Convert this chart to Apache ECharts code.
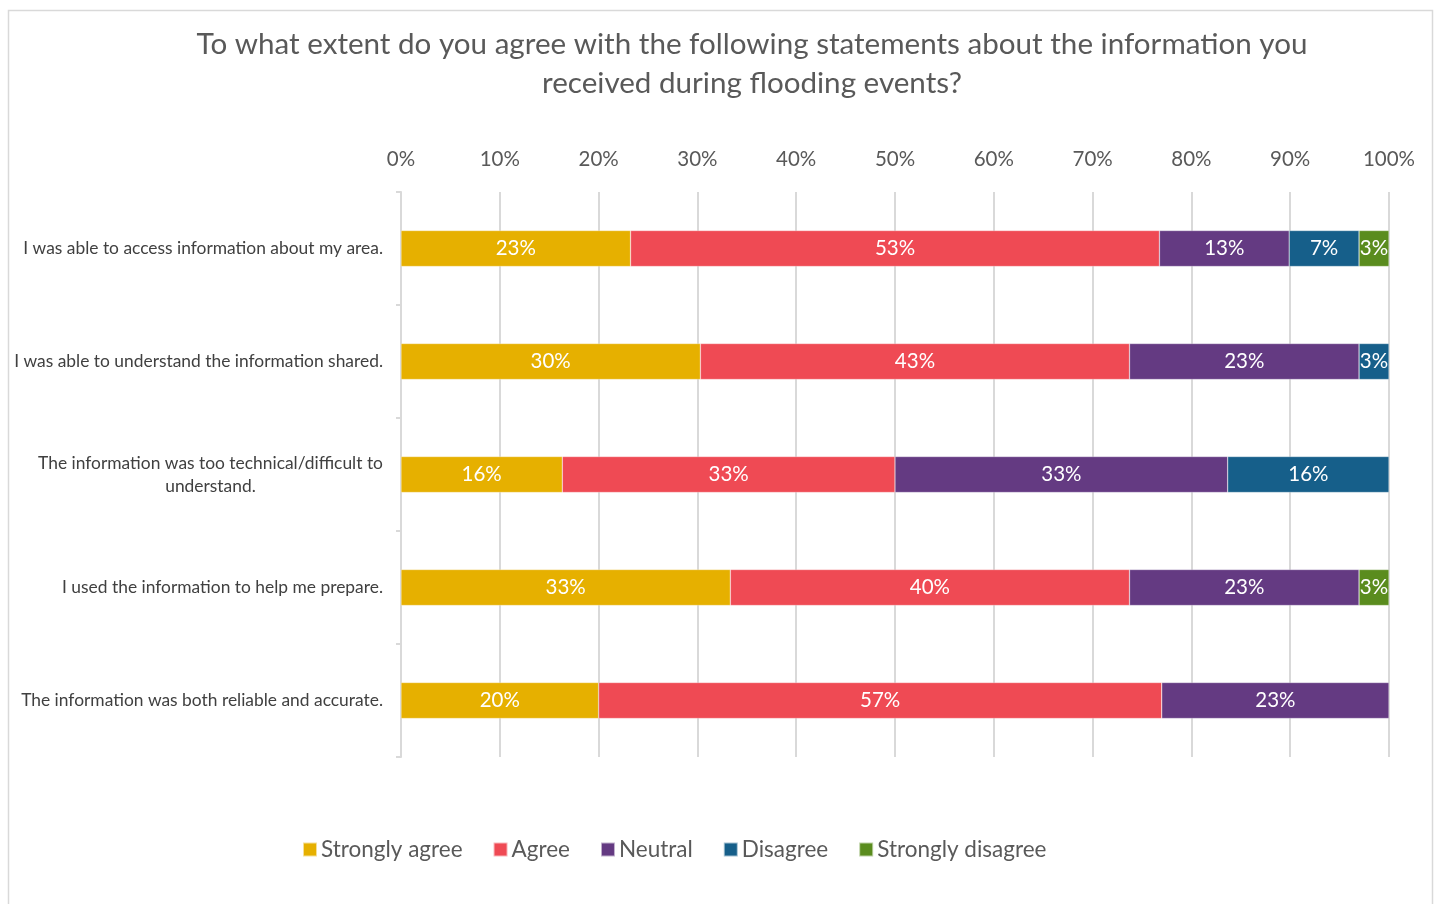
<!DOCTYPE html>
<html>
<head>
<meta charset="utf-8">
<script src="https://cdn.jsdelivr.net/npm/echarts@6/dist/echarts.min.js"></script>
<style>
html,body{margin:0;padding:0;background:#fff;}
#chart{width:1439px;height:904px;}
</style>
</head>
<body>
<div id="chart"></div>
<script>
var titleText = 'To what extent do you agree with the following statements about the information you\nreceived during flooding events?';
var categories = [
  'I was able to access information about my area.',
  'I was able to understand the information shared.',
  'The information was too technical/difficult to\nunderstand.',
  'I used the information to help me prepare.',
  'The information was both reliable and accurate.'
];
var seriesNames = ['Strongly agree', 'Agree', 'Neutral', 'Disagree', 'Strongly disagree'];
var stronglyAgree = [23, 30, 16, 33, 20];
var agree = [53, 43, 33, 40, 57];
var neutral = [13, 23, 33, 23, 23];
var disagree = [7, 3, 16, 0, 0];
var stronglyDisagree = [3, 0, 0, 3, 0];
var xTickLabels = ['0%','10%','20%','30%','40%','50%','60%','70%','80%','90%','100%'];
var colors = ['#E6B000', '#EF4A54', '#643A82', '#165F8A', '#5A8C1E'];

var FONT = 'Lato, "Open Sans", sans-serif';
var CAT_SIZE = 17.4;
var raw = [stronglyAgree, agree, neutral, disagree, stronglyDisagree];
var totals = categories.map(function (c, i) {
  return raw.reduce(function (s, arr) { return s + arr[i]; }, 0);
});

// measure first line of wrapped label so both lines centre like the original
var cv = document.createElement('canvas').getContext('2d');
cv.font = CAT_SIZE + 'px ' + FONT;

var chart = echarts.init(document.getElementById('chart'), null, {renderer: 'canvas'});

var series = raw.map(function (arr, k) {
  return {
    name: seriesNames[k],
    type: 'bar',
    stack: 'total',
    barWidth: 36,
    itemStyle: {color: colors[k], borderColor: 'rgba(255,255,255,0.6)', borderWidth: 0.5},
    label: {
      show: true,
      position: 'inside',
      color: '#fff',
      fontSize: 20.5,
      fontFamily: FONT,
      formatter: function (p) {
        var v = arr[p.dataIndex];
        return v ? v + '%' : '';
      }
    },
    data: arr.map(function (v, i) { return v ? v / totals[i] * 100 : null; })
  };
});

chart.setOption({
  backgroundColor: '#fff',
  animation: false,
  textStyle: {fontFamily: FONT},
  graphic: [{
    type: 'rect',
    shape: {x: 8.5, y: 10.5, width: 1424, height: 1000},
    style: {fill: 'none', stroke: '#d9d9d9', lineWidth: 1.5},
    silent: true
  }],
  title: {
    text: titleText,
    left: 747,
    top: 20,
    textAlign: 'center',
    textStyle: {fontSize: 29.6, fontWeight: 'normal', color: '#595959', lineHeight: 39, fontFamily: FONT}
  },
  legend: {
    left: 302,
    top: 838,
    padding: 0,
    itemWidth: 14,
    itemHeight: 14,
    itemGap: 30,
    icon: 'rect',
    textStyle: {fontSize: 22.5, color: '#595959', fontFamily: FONT, padding: [0, 0, 0, -1]},
    data: seriesNames
  },
  grid: {left: 401, right: 50, top: 192, bottom: 147, containLabel: false},
  xAxis: {
    type: 'value',
    position: 'top',
    min: 0,
    max: 100,
    interval: 10,
    axisLine: {show: false},
    axisTick: {show: false},
    splitLine: {show: true, lineStyle: {color: '#d9d9d9', width: 2}},
    axisLabel: {
      margin: 22,
      fontSize: 20.5,
      color: '#595959',
      fontFamily: FONT,
      formatter: function (v) { return xTickLabels[Math.round(v / 10)]; }
    }
  },
  yAxis: {
    type: 'category',
    inverse: true,
    data: categories,
    axisLine: {show: true, lineStyle: {color: '#d9d9d9', width: 2}},
    axisTick: {show: true, length: 5, lineStyle: {color: '#d9d9d9', width: 2}},
    axisLabel: {
      margin: 18,
      fontSize: CAT_SIZE,
      color: '#404040',
      fontFamily: FONT,
      lineHeight: 23,
      formatter: function (v) {
        if (v.indexOf('\n') < 0) return v;
        return v.split('\n').map(function (l) { return '{c|' + l + '}'; }).join('\n');
      },
      rich: {
        c: {align: 'center', width: Math.ceil(cv.measureText('The information was too technical/difficult to').width), fontSize: CAT_SIZE, color: '#404040', fontFamily: FONT, lineHeight: 23}
      }
    }
  },
  series: series
});
</script>
</body>
</html>
